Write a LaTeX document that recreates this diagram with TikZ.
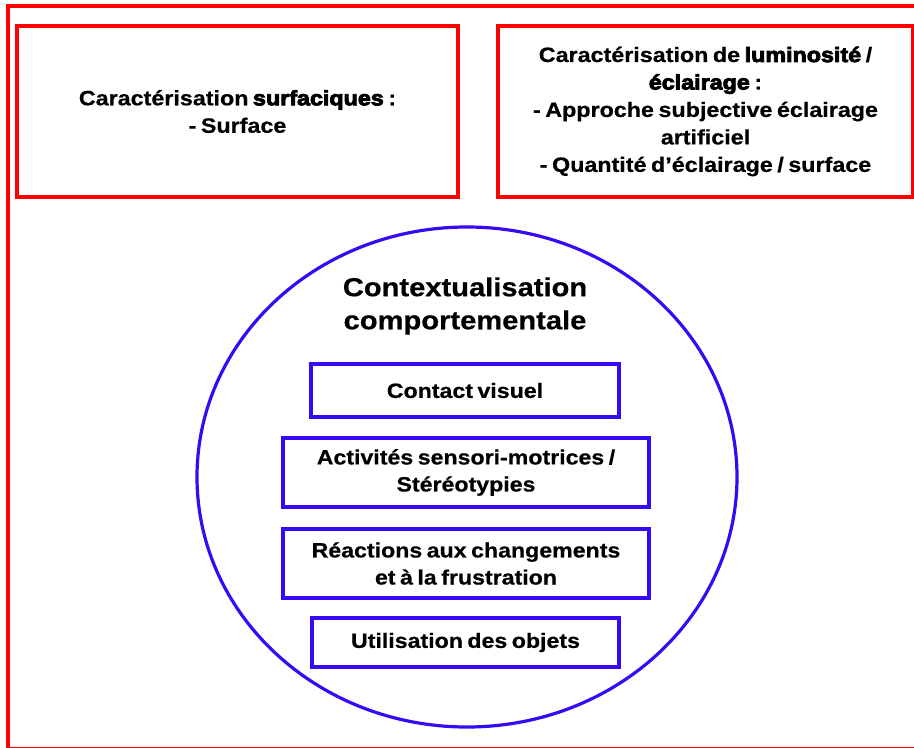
\documentclass[tikz,border=0pt]{standalone}
\usepackage{fontspec}
\setmainfont{Liberation Sans}
\newfontface\bodyfont{Liberation Sans Bold}[FakeStretch=1.12, WordSpace=0.7, FakeBold=0.6]
\newfontface\heavy{Liberation Sans Bold}[FakeStretch=1.12, WordSpace=0.7, FakeBold=4]
\usetikzlibrary{shapes.geometric}
\definecolor{myred}{RGB}{255,0,0}
\definecolor{myblue}{RGB}{55,10,245}
\tikzset{
  redbox/.style={draw=myred, line width=2.4pt, rectangle, inner sep=0pt, align=center,
    font=\bodyfont\fontsize{15.6}{20.6}\selectfont},
  bluebox/.style={draw=myblue, line width=2.3pt, rectangle, inner sep=0pt, align=center,
    font=\bodyfont\fontsize{15.5}{20.3}\selectfont},
  bigtitle/.style={align=center, inner sep=0pt, font=\bodyfont\fontsize{19.5}{24.8}\selectfont}
}
\begin{document}
\begin{tikzpicture}[x=0.75pt,y=-0.75pt]
\clip (0,0) rectangle (914,747);
\draw[myred, line width=2.8pt] (8,6) rectangle (922,748.5);
\node[redbox, minimum width=330.75pt, minimum height=128.25pt] (surf) at (237.5,111.5)
  {Caractérisation {\heavy surfaciques} :\\- Surface};
\node[redbox, minimum width=311.25pt, minimum height=128.25pt] (lum) at (705.5,111.5)
  {Caractérisation de {\heavy luminosité} /\\{\heavy éclairage} :\\- Approche subjective éclairage\\artificiel\\- Quantité d’éclairage / surface};
\node[draw=myblue, line width=2.4pt, ellipse, minimum width=405pt, minimum height=375pt, inner sep=0pt] (cerc) at (467,477) {};
\node[bigtitle] (titre) at (465,306) {Contextualisation\\comportementale};
\node[bluebox, minimum width=231pt, minimum height=39.75pt] (contact) at (465,390.5) {Contact visuel};
\node[bluebox, minimum width=274.5pt, minimum height=51.75pt] (activ) at (466,472.5) {Activités sensori-motrices /\\Stéréotypies};
\node[bluebox, minimum width=274.5pt, minimum height=51.75pt] (react) at (466,563.5) {Réactions aux changements\\et à la frustration};
\node[bluebox, minimum width=230.25pt, minimum height=36.75pt] (util) at (465.5,642.5) {Utilisation des objets};
\end{tikzpicture}
\end{document}
